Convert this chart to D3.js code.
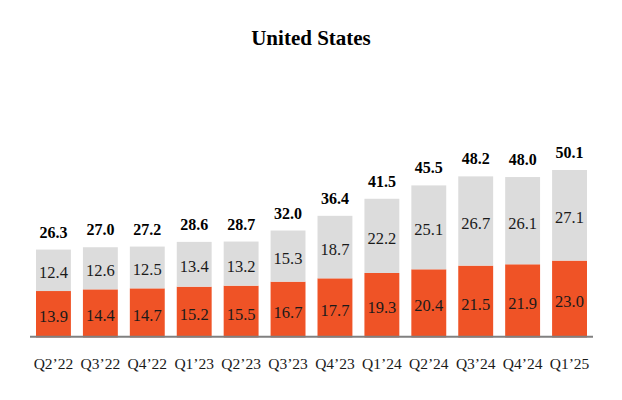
<!DOCTYPE html>
<html>
<head>
<meta charset="utf-8">
<script src="https://cdn.jsdelivr.net/npm/d3@7"></script>
<style>
  body { margin: 0; background: #fff; }
  svg text { font-family: "Liberation Serif", "Times New Roman", serif; }
</style>
</head>
<body>
<div id="app"></div>
<script>
const quarters = ["Q2’22", "Q3’22", "Q4’22", "Q1’23", "Q2’23", "Q3’23", "Q4’23", "Q1’24", "Q2’24", "Q3’24", "Q4’24", "Q1’25"]
const lower = [13.9, 14.4, 14.7, 15.2, 15.5, 16.7, 17.7, 19.3, 20.4, 21.5, 21.9, 23.0]
const upper = [12.4, 12.6, 12.5, 13.4, 13.2, 15.3, 18.7, 22.2, 25.1, 26.7, 26.1, 27.1]
const totals = [26.3, 27.0, 27.2, 28.6, 28.7, 32.0, 36.4, 41.5, 45.5, 48.2, 48.0, 50.1]

const width = 622
const height = 400
const baseY = 337.5

const colors = {
    lower: "#EF5326",
    upper: "#DCDCDC"
}

const svg = d3.select('#app').append('svg')
    .attr('width', width)
    .attr('height', height)

svg.append('text')
    .attr('x', 311)
    .attr('y', 45)
    .attr('text-anchor', 'middle')
    .attr('font-size', '21px')
    .attr('font-weight', 'bold')
    .text('United States')

const x = d3.scaleBand()
    .domain(quarters)
    .range([30, 593])
    .paddingInner(0.256)
    .paddingOuter(0.128)

const y = d3.scaleLinear()
    .domain([0, 60])
    .range([baseY, baseY - 60 * 3.343])

// one row per quarter, stacked lower then upper
const rows = quarters.map((q, i) => ({ q, lower: lower[i], upper: upper[i], total: totals[i] }))
const stack = d3.stack().keys(['lower', 'upper'])(rows)

const layers = svg.selectAll('g.layer')
    .data(stack)
    .join('g')
    .attr('class', 'layer')

layers.selectAll('rect')
    .data(d => d.map(s => ({ key: d.key, s })))
    .join('rect')
    .attr('x', d => x(d.s.data.q))
    .attr('width', x.bandwidth())
    .attr('y', d => y(d.s[1]))
    .attr('height', d => y(d.s[0]) - y(d.s[1]))
    .attr('fill', d => colors[d.key])

layers.selectAll('text')
    .data(d => d.map(s => ({ key: d.key, s })))
    .join('text')
    .attr('x', d => x(d.s.data.q) + x.bandwidth() / 2)
    .attr('y', d => (y(d.s[0]) + y(d.s[1])) / 2 + 8)
    .attr('text-anchor', 'middle')
    .attr('font-size', '16.5px')
    .attr('fill', '#1a1a1a')
    .text(d => d.s.data[d.key].toFixed(1))

// totals above bars
svg.append('g').selectAll('text')
    .data(rows)
    .join('text')
    .attr('x', d => x(d.q) + x.bandwidth() / 2)
    .attr('y', d => y(d.lower + d.upper) - 12)
    .attr('text-anchor', 'middle')
    .attr('font-size', '16px')
    .attr('font-weight', 'bold')
    .text(d => d.total.toFixed(1))

// baseline
svg.append('line')
    .attr('x1', 30)
    .attr('x2', 593)
    .attr('y1', 336.7)
    .attr('y2', 336.7)
    .attr('stroke', '#808080')
    .attr('stroke-width', 2)

const xAxis = svg.append('g')
    .attr('transform', `translate(0,${baseY})`)
    .call(d3.axisBottom(x).tickSize(0).tickPadding(20))

xAxis.select('.domain').remove()
xAxis.selectAll('text')
    .attr('font-size', '15.5px')
    .attr('fill', '#1a1a1a')
</script>
</body>
</html>
